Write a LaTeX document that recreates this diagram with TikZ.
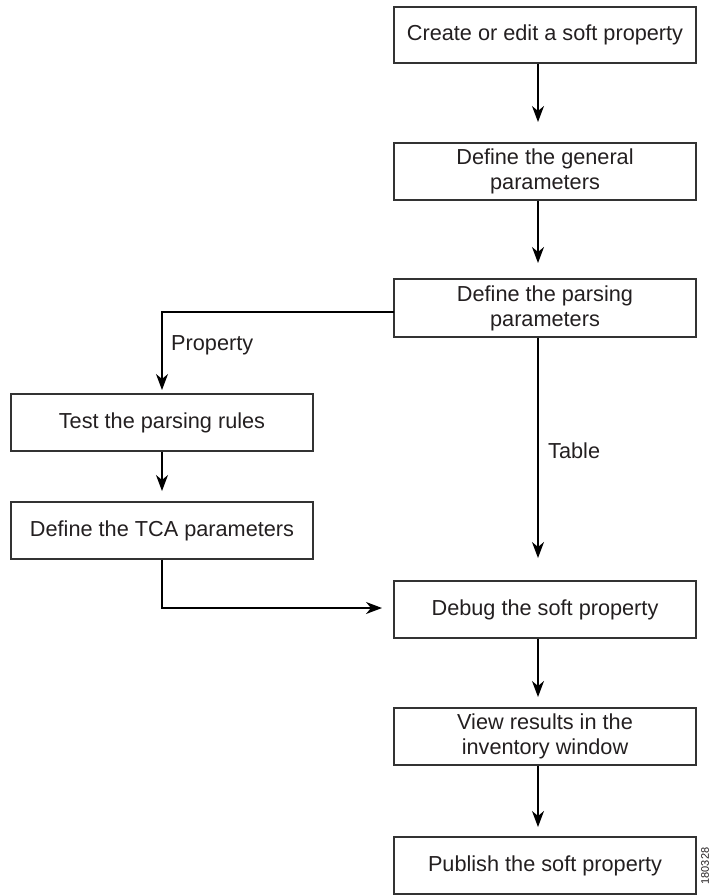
\documentclass[tikz,border=0pt]{standalone}
\usepackage{fontspec}
\setmainfont{Liberation Sans}
\usetikzlibrary{arrows.meta}
\definecolor{ink}{HTML}{231F20}
\definecolor{boxline}{HTML}{333333}
\begin{document}
\begin{tikzpicture}[x=1pt,y=-1pt,
  stepbox/.style={draw=boxline, line width=1.2pt, rectangle, minimum width=302pt, inner sep=0pt, align=center, text=ink, font=\fontsize{21.7}{25}\selectfont},
  arr/.style={draw=black, line width=1.3pt, -{Stealth[length=16pt,width=12pt,inset=5pt]}},
  lab/.style={text=ink, font=\fontsize{21.7}{25}\selectfont, inner sep=0pt, anchor=west}
]
\useasboundingbox (0,0) rectangle (711,895);
% boxes
\node[stepbox, minimum height=56pt] (b1) at (545,35) {Create or edit a soft property};
\node[stepbox, minimum height=57pt] (b2) at (545,171.5) {Define the general\\parameters};
\node[stepbox, minimum height=58pt] (b3) at (545,308) {Define the parsing\\parameters};
\node[stepbox, minimum height=57pt] (b4) at (162,422.5) {Test the parsing rules};
\node[stepbox, minimum height=57pt] (b5) at (162,530.5) {Define the TCA parameters};
\node[stepbox, minimum height=57pt] (b6) at (545,609.5) {Debug the soft property};
\node[stepbox, minimum height=57pt] (b7) at (545,736.5) {View results in the\\inventory window};
\node[stepbox, minimum height=57pt] (b8) at (545,865.5) {Publish the soft property};
% arrow tips
\coordinate (t1) at (538,122);
\coordinate (t2) at (538,263);
\coordinate (t3) at (162,390);
\coordinate (t4) at (162,491);
\coordinate (t5) at (382,608);
\coordinate (t6) at (538,558);
\coordinate (t7) at (538,697);
\coordinate (t8) at (538,827);
\coordinate (j1) at (394,312);
% connectors
\draw[arr] (b1.south -| t1) -- (t1);
\draw[arr] (b2.south -| t2) -- (t2);
\draw[arr] (j1) -| (t3);
\draw[arr] (b4.south -| t4) -- (t4);
\draw[arr] (b5.south) |- (t5);
\draw[arr] (b3.south -| t6) -- (t6);
\draw[arr] (b6.south -| t7) -- (t7);
\draw[arr] (b7.south -| t8) -- (t8);
% labels
\node[lab] (lp) at (171,345) {Property};
\node[lab] (lt) at (548,451) {Table};
\node[rotate=90, text=ink, font=\fontsize{11}{11}\selectfont, inner sep=0pt] (id) at (705,866) {180328};
\end{tikzpicture}
\end{document}
